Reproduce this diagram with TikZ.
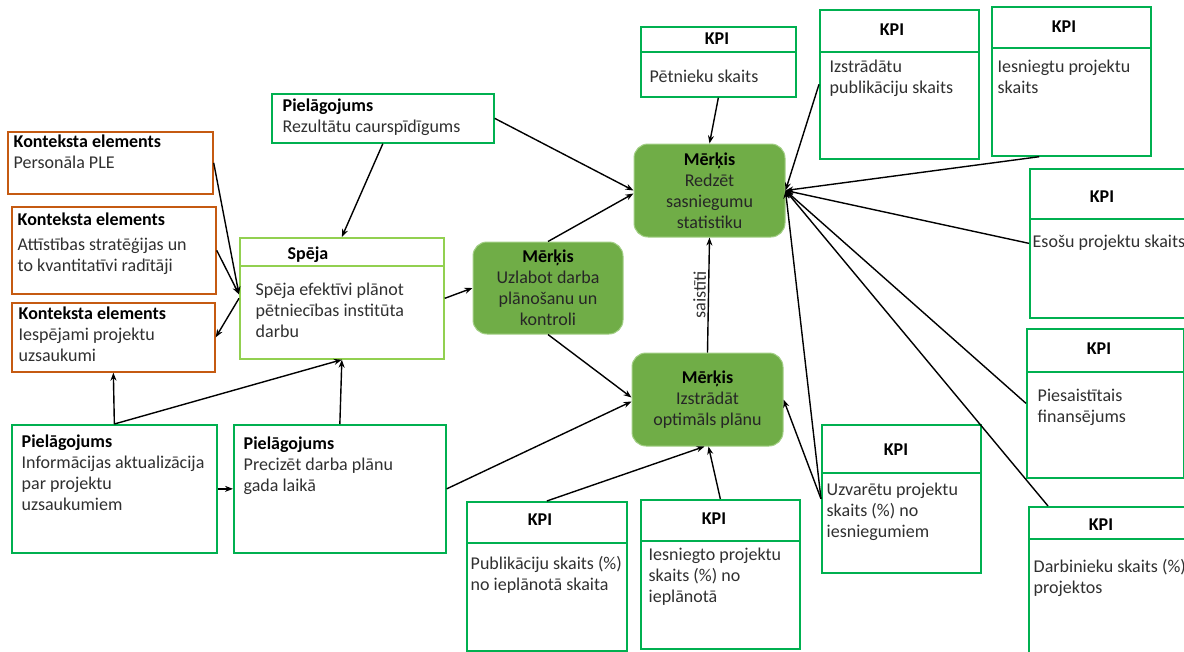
\documentclass[tikz,border=0pt]{standalone}
\usepackage{fontspec}
\setmainfont{Carlito}
\usetikzlibrary{calc,arrows.meta}
\definecolor{kpigreen}{HTML}{00B050}
\definecolor{lightgreen}{HTML}{92D050}
\definecolor{ctxorange}{HTML}{C55A11}
\definecolor{goalfill}{HTML}{70AD47}
\definecolor{goalrim}{HTML}{A3CF86}
\definecolor{bodygrey}{HTML}{303030}

\begin{document}
\begin{tikzpicture}[x=1pt,y=-1pt,->,>={Stealth[length=8pt,width=6pt]},line width=1.4pt,
    every node/.style={font=\fontsize{18}{21}\selectfont, inner sep=0pt, text=bodygrey},
    kpi box/.style={draw=kpigreen, line width=1.7pt, anchor=north west},
    ctx box/.style={draw=ctxorange, line width=1.7pt, anchor=north west},
    speja box/.style={draw=lightgreen, line width=1.7pt, anchor=north west},
    goal node/.style={draw=goalrim, line width=1pt, fill=goalfill, rounded corners=14pt, align=center, text=black!85},
    head/.style={font=\fontsize{18}{21}\selectfont\bfseries, text=black},
    txt/.style={anchor=west, align=left},
    divider/.style={-, draw=kpigreen, line width=1.7pt}]

    \useasboundingbox[fill=white] (0,0) rectangle (1184,651);

    % context elements
    \node[ctx box, minimum width=205pt, minimum height=62pt] (ctxa) at (7,131) {};
    \node[txt] (ctxa-t) at (13,152) {\textbf{\color{black}Konteksta elements}\\Personāla PLE};
    \node[ctx box, minimum width=204pt, minimum height=87pt] (ctxb) at (11,206) {};
    \node[txt] (ctxb-t) at (17,244) {\textbf{\color{black}Konteksta elements}\\[4pt]Attīstības stratēģijas un\\to kvantitatīvi radītāji};
    \node[ctx box, minimum width=203pt, minimum height=69pt] (ctxc) at (11,302) {};
    \node[txt] (ctxc-t) at (18,334) {\textbf{\color{black}Konteksta elements}\\Iespējami projektu\\uzsaukumi};

    % capability
    \node[speja box, minimum width=204pt, minimum height=121pt] (speja) at (239,237) {};
    \draw[divider, draw=lightgreen] (speja.west |- 0,266) -- (speja.east |- 0,266);
    \node[head] (speja-h) at (308,255) {Spēja};
    \node[txt] (speja-t) at (255,310) {Spēja efektīvi plānot\\pētniecības institūta\\darbu};

    % adjustments
    \node[kpi box, minimum width=222pt, minimum height=49pt] (ptop) at (271,93) {};
    \node[txt] (ptop-t) at (282,117.5) {\textbf{\color{black}Pielāgojums}\\Rezultātu caurspīdīgums};
    \node[kpi box, minimum width=205pt, minimum height=128pt] (pbl) at (11,424) {};
    \node[txt] (pbl-t) at (21,473) {\textbf{\color{black}Pielāgojums}\\Informācijas aktualizācija\\par projektu\\uzsaukumiem};
    \node[kpi box, minimum width=212pt, minimum height=128pt] (pbm) at (233,424) {};
    \node[txt] (pbm-t) at (243,465.5) {\textbf{\color{black}Pielāgojums}\\Precizēt darba plānu\\gada laikā};

    % goals
    \node[goal node, minimum width=151pt, minimum height=93pt] (stat) at (709.5,190.5) {\textbf{\color{black}Mērķis}\\Redzēt\\sasniegumu\\statistiku};
    \node[goal node, minimum width=150pt, minimum height=92pt] (uzl) at (548,288) {\textbf{\color{black}Mērķis}\\Uzlabot darba\\plānošanu un\\kontroli};
    \node[goal node, minimum width=151pt, minimum height=93pt] (opt) at (707.5,399.5) {\textbf{\color{black}Mērķis}\\Izstrādāt\\optimāls plānu};

    % KPIs
    \node[kpi box, minimum width=155pt, minimum height=70pt] (pet) at (640,26) {};
    \draw[divider] (pet.west |- 0,52) -- (pet.east |- 0,52);
    \node[head] (pet-h) at (717,39) {KPI};
    \node[txt] (pet-t) at (649,76) {Pētnieku skaits};

    \node[kpi box, minimum width=159pt, minimum height=149pt] (izs) at (819,9) {};
    \draw[divider] (izs.west |- 0,52) -- (izs.east |- 0,52);
    \node[head] (izs-h) at (892,30) {KPI};
    \node[txt] (izs-t) at (829,78.5) {Izstrādātu\\publikāciju skaits};

    \node[kpi box, minimum width=159pt, minimum height=149pt] (ies) at (991,6) {};
    \draw[divider] (ies.west |- 0,48) -- (ies.east |- 0,48);
    \node[head] (ies-h) at (1064,27) {KPI};
    \node[txt] (ies-t) at (997,76.5) {Iesniegtu projektu\\skaits};

    \node[kpi box, minimum width=161pt, minimum height=149pt] (eso) at (1029,168) {};
    \draw[divider] (eso.west |- 0,219) -- (eso.east |- 0,219);
    \node[head] (eso-h) at (1102,197) {KPI};
    \node[txt] (eso-t) at (1032,243) {Esošu projektu skaits};

    \node[kpi box, minimum width=157pt, minimum height=149pt] (pie) at (1026,328) {};
    \draw[divider] (pie.west |- 0,372) -- (pie.east |- 0,372);
    \node[head] (pie-h) at (1099,349) {KPI};
    \node[txt] (pie-t) at (1037,407.5) {Piesaistītais\\finansējums};

    \node[kpi box, minimum width=162pt, minimum height=154pt] (dar) at (1028,506) {};
    \draw[divider] (dar.west |- 0,539) -- (dar.east |- 0,539);
    \node[head] (dar-h) at (1101,525) {KPI};
    \node[txt] (dar-t) at (1033,577.5) {Darbinieku skaits (\%)\\projektos};

    \node[kpi box, minimum width=159pt, minimum height=148pt] (uzv) at (821,424) {};
    \draw[divider] (uzv.west |- 0,473) -- (uzv.east |- 0,473);
    \node[head] (uzv-h) at (896,450) {KPI};
    \node[txt] (uzv-t) at (826,512) {Uzvarētu projektu\\skaits (\%) no\\iesniegumiem};

    \node[kpi box, minimum width=160pt, minimum height=149pt] (pubk) at (466,501) {};
    \draw[divider] (pubk.west |- 0,543) -- (pubk.east |- 0,543);
    \node[head] (pubk-h) at (540,520) {KPI};
    \node[txt] (pubk-t) at (470,574.5) {Publikāciju skaits (\%)\\no ieplānotā skaita};

    \node[kpi box, minimum width=159pt, minimum height=149pt] (iesk) at (640,499) {};
    \draw[divider] (iesk.west |- 0,541) -- (iesk.east |- 0,541);
    \node[head] (iesk-h) at (714,519) {KPI};
    \node[txt] (iesk-t) at (648,577) {Iesniegto projektu\\skaits (\%) no\\ieplānotā};

    \coordinate (conv) at ($(speja.west)+(0,-4)$);

    \path
        (ptop.east) edge (stat.west)
        (ptop.south) edge (speja.north)
        (ctxa.east) edge (conv)
        (ctxb.east) edge (conv)
        (speja.west) edge (ctxc.east)
        (speja.east) edge (uzl.west)

        (uzl.north) edge ($(stat.west)+(0,3)$)
        (uzl.south) edge ($(opt.west)+(0,-2)$)
        (opt.north) edge node[sloped, above=2pt] {saistīti} (stat.south)

        (pet.south) edge (stat.north)
        (izs.west) edge (stat.east)
        ($(ies.south west)!0.3!(ies.south east)$) edge (stat.east)
        (eso.west) edge (stat.east)
        (pie.west) edge (stat.east)
        ($(dar.north west)+(20,0)$) edge (stat.east)
        (uzv.west) edge (stat.east)
        (uzv.west) edge (opt.east)

        (pbl.north) edge (ctxc.south)
        (pbl.north) edge (speja.south)
        (pbm.north) edge (speja.south)
        (pbl.east) edge (pbm.west)
        (pbm.east) edge ($(opt.west)+(0,2)$)
        (pubk.north) edge ($(opt.south)+(-3,0)$)
        (iesk.north) edge ($(opt.south)+(1,0)$)
    ;
\end{tikzpicture}
\end{document}
